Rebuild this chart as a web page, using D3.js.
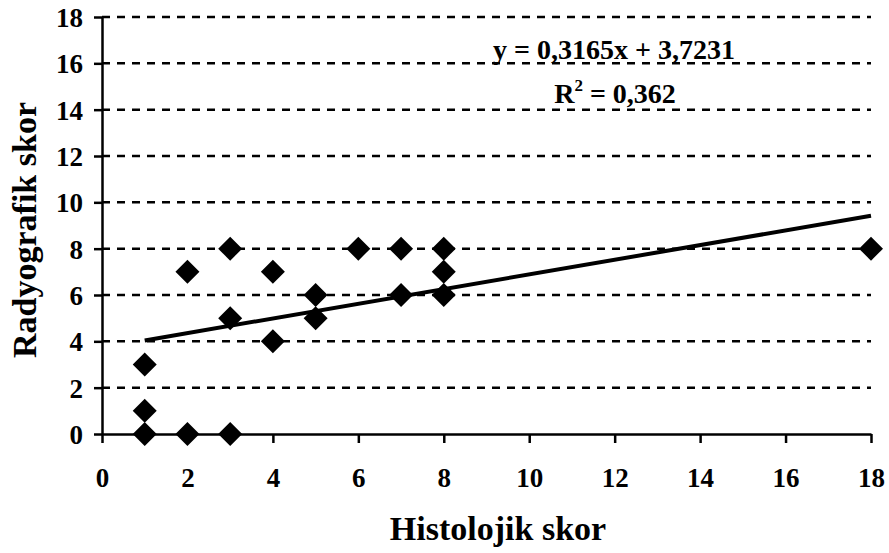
<!DOCTYPE html>
<html>
<head>
<meta charset="utf-8">
<script src="https://cdn.jsdelivr.net/npm/d3@7/dist/d3.min.js"></script>
<style>
  html, body { margin: 0; padding: 0; background: #fff; }
  svg { display: block; }
  text { font-family: "Liberation Serif", "Times New Roman", serif; font-weight: bold; fill: #000; }
</style>
</head>
<body>
<svg id="chart" width="889" height="553"></svg>
<script>
// Histological score (x) vs radiographic score (y)
const histolojik = [1, 1, 1, 2, 2, 3, 3, 3, 4, 4, 5, 5, 6, 7, 7, 8, 8, 8, 18];
const radyografik = [0, 1, 3, 0, 7, 0, 5, 8, 4, 7, 5, 6, 8, 6, 8, 6, 7, 8, 8];

const xTicks = [0, 2, 4, 6, 8, 10, 12, 14, 16, 18];
const yTicks = [0, 2, 4, 6, 8, 10, 12, 14, 16, 18];
const gridTicks = [2, 4, 6, 8, 10, 12, 14, 16, 18];

// Linear trend line
const slope = 0.3165;
const intercept = 3.7231;
const rSquared = 0.362;
const trendRange = [1, 18];

const xTitle = "Histolojik skor";
const yTitle = "Radyografik skor";

const fmt = v => String(v).replace(".", ",");

const svg = d3.select("#chart");
const plot = { left: 102, right: 871, top: 17, bottom: 434 };

const x = d3.scaleLinear().domain([0, 18]).range([plot.left, plot.right]);
const y = d3.scaleLinear().domain([0, 18]).range([plot.bottom, plot.top]);

// dashed horizontal gridlines
svg.append("g")
  .selectAll("line")
  .data(gridTicks)
  .join("line")
  .attr("x1", plot.left).attr("x2", plot.right)
  .attr("y1", d => y(d)).attr("y2", d => y(d))
  .attr("stroke", "#000")
  .attr("stroke-width", 2.5)
  .attr("stroke-dasharray", "8,7");

// y axis
const yAxis = svg.append("g")
  .attr("transform", `translate(${plot.left},0)`)
  .call(d3.axisLeft(y).tickValues(yTicks).tickSize(8).tickSizeOuter(0).tickPadding(11));
yAxis.select(".domain").attr("stroke-width", 2.5);
yAxis.selectAll(".tick line").attr("stroke-width", 2.5);
yAxis.selectAll(".tick text")
  .style("font-size", "27px")
  .style("font-family", "'Liberation Serif', serif")
  .style("font-weight", "bold")
  .attr("dy", "0.35em");

// x axis
const xAxis = svg.append("g")
  .attr("transform", `translate(0,${plot.bottom})`)
  .call(d3.axisBottom(x).tickValues(xTicks).tickSize(9).tickSizeOuter(0).tickPadding(0));
xAxis.select(".domain").attr("stroke-width", 2.5);
xAxis.selectAll(".tick line").attr("stroke-width", 2.5);
xAxis.selectAll(".tick text")
  .style("font-size", "27px")
  .style("font-family", "'Liberation Serif', serif")
  .style("font-weight", "bold")
  .attr("y", 53)
  .attr("dy", 0);

// trend line
svg.append("line")
  .attr("x1", x(trendRange[0])).attr("y1", y(slope * trendRange[0] + intercept))
  .attr("x2", x(trendRange[1])).attr("y2", y(slope * trendRange[1] + intercept))
  .attr("stroke", "#000")
  .attr("stroke-width", 4);

// diamond markers
const pts = histolojik.map((h, i) => ({ h, r: radyografik[i] }));
const s = 12;
svg.append("g")
  .selectAll("path")
  .data(pts)
  .join("path")
  .attr("transform", d => `translate(${x(d.h)},${y(d.r)})`)
  .attr("d", `M0,${-s}L${s},0L0,${s}L${-s},0Z`)
  .attr("fill", "#000");

// equation and R²
svg.append("text")
  .attr("x", 614).attr("y", 59)
  .attr("text-anchor", "middle")
  .style("font-size", "28px")
  .text(`y = ${fmt(slope)}x + ${fmt(intercept)}`);

const r2 = svg.append("text")
  .attr("x", 615).attr("y", 103)
  .attr("text-anchor", "middle")
  .style("font-size", "28px");
r2.append("tspan").text("R");
r2.append("tspan").attr("dy", -12).style("font-size", "17px").text("2");
r2.append("tspan").attr("dy", 12).text(` = ${fmt(rSquared)}`);

// axis titles
svg.append("text")
  .attr("x", 498).attr("y", 540)
  .attr("text-anchor", "middle")
  .style("font-size", "34px")
  .text(xTitle);

svg.append("text")
  .attr("transform", "translate(36,230) rotate(-90)")
  .attr("text-anchor", "middle")
  .style("font-size", "34px")
  .text(yTitle);
</script>
</body>
</html>
